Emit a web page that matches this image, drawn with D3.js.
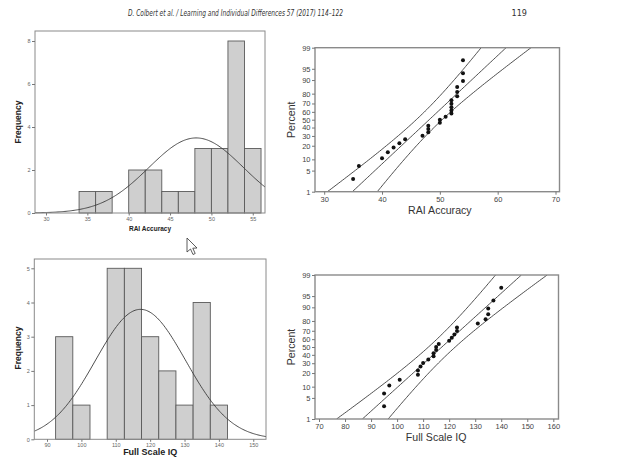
<!DOCTYPE html>
<html lang="en">
<head>
  <meta charset="UTF-8">
  <title>RAI Accuracy / Full Scale IQ</title>
  <style>
body {
    margin: 0;
    background: #fff;
    font-family: "Liberation Sans", Arial, Helvetica, sans-serif;
}

.frame {
    fill: none;
    stroke: #8a8a8a;
}

.bar {
    fill: #cfcfcf;
    stroke: #5a5a5a;
    stroke-width: 0.9px;
}

.curve {
    fill: none;
    stroke: #3a3a3a;
    stroke-width: 0.9px;
}

.tick-small text {
    fill: #666;
    font-size: 5.5px;
}

.tick-small line, .tick-qq line {
    stroke: #777;
}

.tick-qq text {
    fill: #444;
    font-size: 7.5px;
}

.hist-label {
    font-weight: bold;
    fill: #222;
}

.qq-label {
    fill: #333;
    font-size: 10.6px;
}
  </style>
</head>
<body>

<div id="wrapper"></div>

<script src="https://cdnjs.cloudflare.com/ajax/libs/d3/7.8.5/d3.min.js"></script>
<script>

// DATA (histograms agree)
const raiAccuracy = [35, 36, 40, 41, 42, 43, 44, 47, 48, 48, 48, 50, 50, 51,
                     52, 52, 52, 52, 52, 53, 53, 53, 54, 54, 54]
const fullScaleIQ = [95, 95, 97, 101, 108, 108, 109, 110, 112, 114, 114, 115, 115,
                     116, 120, 121, 122, 123, 123, 131, 134, 135, 135, 137, 140]

const raiBinEdges = [34, 36, 38, 40, 42, 44, 46, 48, 50, 52, 54, 56]
const iqBinEdges = [92.5, 97.5, 102.5, 107.5, 112.5, 117.5, 122.5, 127.5, 132.5, 137.5, 142.5]

const raiHistXTicks = [30, 35, 40, 45, 50, 55]
const raiHistYTicks = [0, 2, 4, 6, 8]
const iqHistXTicks = [90, 100, 110, 120, 130, 140, 150]
const iqHistYTicks = [0, 1, 2, 3, 4, 5]

const percentTicks = [1, 5, 10, 20, 30, 40, 50, 60, 70, 80, 90, 95, 99]
const raiQQXTicks = [30, 40, 50, 60, 70]
const iqQQXTicks = [70, 80, 90, 100, 110, 120, 130, 140, 150, 160]

const headerText = "D. Colbert et al. / Learning and Individual Differences 57 (2017) 114\u2013122"
const pageNumber = "119"

// inverse normal cdf (Acklam)
function qnorm(p) {
  const a = [-3.969683028665376e+01, 2.209460984245205e+02, -2.759285104469687e+02,
             1.383577518672690e+02, -3.066479806614716e+01, 2.506628277459239e+00]
  const b = [-5.447609879822406e+01, 1.615858368580409e+02, -1.556989798598866e+02,
             6.680131188771972e+01, -1.328068155288572e+01]
  const c = [-7.784894002430293e-03, -3.223964580411365e-01, -2.400758277161838e+00,
             -2.549732539343734e+00, 4.374664141464968e+00, 2.938163982698783e+00]
  const d = [7.784695709041462e-03, 3.224671290700398e-01, 2.445134137142996e+00,
             3.754408661907416e+00]
  const pl = 0.02425
  let q, r
  if (p < pl) {
    q = Math.sqrt(-2 * Math.log(p))
    return (((((c[0]*q+c[1])*q+c[2])*q+c[3])*q+c[4])*q+c[5]) / ((((d[0]*q+d[1])*q+d[2])*q+d[3])*q+1)
  }
  if (p > 1 - pl) {
    q = Math.sqrt(-2 * Math.log(1 - p))
    return -(((((c[0]*q+c[1])*q+c[2])*q+c[3])*q+c[4])*q+c[5]) / ((((d[0]*q+d[1])*q+d[2])*q+d[3])*q+1)
  }
  q = p - 0.5
  r = q * q
  return (((((a[0]*r+a[1])*r+a[2])*r+a[3])*r+a[4])*r+a[5])*q / (((((b[0]*r+b[1])*r+b[2])*r+b[3])*r+b[4])*r+1)
}

const width = 638
const height = 460

const svg = d3.select("#wrapper")
  .append("svg")
  .attr("width", width)
  .attr("height", height)

svg.append("rect").attr("width", width).attr("height", height).attr("fill", "#fff")

// HEADER
svg.append("text")
  .attr("x", 128).attr("y", 16)
  .attr("textLength", 215).attr("lengthAdjust", "spacingAndGlyphs")
  .style("font-family", "'Liberation Sans Narrow', 'DejaVu Sans Condensed', sans-serif")
  .style("font-style", "italic").style("font-size", "9px").attr("fill", "#333")
  .text(headerText)

svg.append("text")
  .attr("x", 527).attr("y", 16).attr("text-anchor", "end")
  .style("font-family", "'Liberation Sans Narrow', 'DejaVu Sans Condensed', sans-serif")
  .style("font-size", "9px").attr("fill", "#333")
  .text(pageNumber)

// HISTOGRAM WITH NORMAL CURVE
function drawHistogram(opts) {
  const { values, edges, xTicks, yTicks, frame, xDomain, yAt, label, labelSize, labelY, freqY } = opts
  const g = svg.append("g")

  const x = d3.scaleLinear().domain(xDomain).range([frame.left, frame.right])
  const y = d3.scaleLinear().domain([0, yAt.v]).range([frame.bottom, yAt.px])

  const bins = d3.bin()
    .domain([edges[0], edges[edges.length - 1]])
    .thresholds(edges.slice(1, -1))(values)

  g.selectAll(".bar")
    .data(bins.filter(b => b.length > 0))
    .enter().append("rect")
      .attr("class", "bar")
      .attr("x", d => x(d.x0))
      .attr("width", d => x(d.x1) - x(d.x0))
      .attr("y", d => y(d.length))
      .attr("height", d => y(0) - y(d.length))

  // fitted normal curve, scaled to counts
  const n = values.length
  const mu = d3.mean(values)
  const sd = d3.deviation(values)
  const binW = edges[1] - edges[0]
  const dens = v => n * binW * Math.exp(-0.5 * ((v - mu) / sd) ** 2) / (sd * Math.sqrt(2 * Math.PI))
  const xs = d3.range(0, 201).map(i => xDomain[0] + (xDomain[1] - xDomain[0]) * i / 200)
  g.append("path")
    .attr("class", "curve")
    .attr("d", d3.line().x(v => x(v)).y(v => y(dens(v)))(xs))

  g.append("rect")
    .attr("class", "frame")
    .attr("x", frame.left).attr("y", frame.top)
    .attr("width", frame.right - frame.left)
    .attr("height", frame.bottom - frame.top)

  g.append("g")
    .attr("class", "tick-small")
    .attr("transform", `translate(0,${frame.bottom})`)
    .call(d3.axisBottom(x).tickValues(xTicks).tickFormat(d3.format("d"))
      .tickSize(2.5).tickPadding(1.5).tickSizeOuter(0))
    .call(a => a.select(".domain").remove())

  g.append("g")
    .attr("class", "tick-small")
    .attr("transform", `translate(${frame.left},0)`)
    .call(d3.axisLeft(y).tickValues(yTicks).tickFormat(d3.format("d"))
      .tickSize(3).tickPadding(1.5).tickSizeOuter(0))
    .call(a => a.select(".domain").remove())

  g.selectAll(".tick-small text").style("font-family", "'Liberation Sans', Arial, sans-serif")

  g.append("text")
    .attr("class", "hist-label")
    .attr("x", (frame.left + frame.right) / 2).attr("y", labelY)
    .attr("text-anchor", "middle").attr("dominant-baseline", "middle")
    .style("font-size", labelSize + "px")
    .text(label)

  g.append("text")
    .attr("class", "hist-label")
    .attr("transform", `translate(19,${freqY}) rotate(-90)`)
    .attr("text-anchor", "middle").attr("dominant-baseline", "middle")
    .style("font-size", "8.5px")
    .text("Frequency")
}

// NORMAL PROBABILITY PLOT WITH 95% BANDS
function drawProbPlot(opts) {
  const { values, xTicks, frame, xAt, label, labelY } = opts
  const g = svg.append("g")

  const zLo = qnorm(0.01), zHi = qnorm(0.99)
  const x = d3.scaleLinear().domain([xAt.v0, xAt.v1]).range([xAt.p0, xAt.p1])
  const y = d3.scaleLinear().domain([zLo, zHi]).range([frame.bottom, frame.top])

  const sorted = values.slice().sort(d3.ascending)
  const n = sorted.length
  const mu = d3.mean(sorted)
  const sd = d3.deviation(sorted)

  const zs = d3.range(0, 101).map(i => zLo + (zHi - zLo) * i / 100)
  const half = z => 1.96 * sd * Math.sqrt(1 / n + z * z / (2 * n))
  const lines = [
    zs.map(z => [mu + z * sd - half(z), z]),
    zs.map(z => [mu + z * sd, z]),
    zs.map(z => [mu + z * sd + half(z), z]),
  ]

  const clipId = "clip" + Math.round(frame.top)
  g.append("clipPath").attr("id", clipId)
    .append("rect")
    .attr("x", frame.left).attr("y", frame.top)
    .attr("width", frame.right - frame.left).attr("height", frame.bottom - frame.top)

  g.append("g").attr("clip-path", `url(#${clipId})`)
    .selectAll("path")
    .data(lines)
    .enter().append("path")
      .attr("class", "curve")
      .attr("d", d3.line().x(d => x(d[0])).y(d => y(d[1])))

  g.selectAll(".dot")
    .data(sorted)
    .enter().append("circle")
      .attr("class", "dot")
      .attr("cx", d => x(d))
      .attr("cy", (d, i) => y(qnorm((i + 1 - 0.3) / (n + 0.4))))
      .attr("r", 2)
      .attr("fill", "#111")

  g.append("rect")
    .attr("class", "frame")
    .attr("x", frame.left).attr("y", frame.top)
    .attr("width", frame.right - frame.left)
    .attr("height", frame.bottom - frame.top)
    .style("stroke-width", "1.4px")

  g.append("g")
    .attr("class", "tick-qq")
    .attr("transform", `translate(0,${frame.bottom})`)
    .call(d3.axisBottom(x).tickValues(xTicks).tickSize(3).tickPadding(2).tickSizeOuter(0))
    .call(a => a.select(".domain").remove())

  g.append("g")
    .attr("class", "tick-qq")
    .attr("transform", `translate(${frame.left},0)`)
    .call(d3.axisLeft(y)
      .tickValues(percentTicks.map(p => qnorm(p / 100)))
      .tickFormat((d, i) => percentTicks[i])
      .tickSize(3).tickPadding(1.5).tickSizeOuter(0))
    .call(a => a.select(".domain").remove())

  g.selectAll(".tick-qq text").style("font-family", "'Liberation Sans', Arial, sans-serif")

  g.append("text")
    .attr("class", "qq-label")
    .attr("x", (xAt.p0 + xAt.p1) / 2).attr("y", labelY)
    .attr("text-anchor", "middle").attr("dominant-baseline", "middle")
    .text(label)

  g.append("text")
    .attr("class", "qq-label")
    .attr("transform", `translate(292,${(frame.top + frame.bottom) / 2}) rotate(-90)`)
    .attr("text-anchor", "middle").attr("dominant-baseline", "middle")
    .text("Percent")
}

drawHistogram({
  values: raiAccuracy, edges: raiBinEdges,
  xTicks: raiHistXTicks, yTicks: raiHistYTicks,
  frame: { left: 35, right: 265, top: 31, bottom: 213 },
  xDomain: [28.67, 56.48],
  yAt: { v: 8, px: 41 },
  label: "RAI Accuracy", labelSize: 6.5, labelY: 229, freqY: 122,
})

drawHistogram({
  values: fullScaleIQ, edges: iqBinEdges,
  xTicks: iqHistXTicks, yTicks: iqHistYTicks,
  frame: { left: 34.3, right: 266, top: 259, bottom: 439.3 },
  xDomain: [86.3, 153.7],
  yAt: { v: 5, px: 268.3 },
  label: "Full Scale IQ", labelSize: 9, labelY: 453, freqY: 348,
})

drawProbPlot({
  values: raiAccuracy, xTicks: raiQQXTicks,
  frame: { left: 315, right: 559.5, top: 47.7, bottom: 191.7 },
  xAt: { v0: 30, v1: 70, p0: 324.2, p1: 555.5 },
  label: "RAI Accuracy", labelY: 211,
})

drawProbPlot({
  values: fullScaleIQ, xTicks: iqQQXTicks,
  frame: { left: 315, right: 558.5, top: 275, bottom: 419 },
  xAt: { v0: 70, v1: 160, p0: 319, p1: 553.3 },
  label: "Full Scale IQ", labelY: 438,
})

// mouse pointer seen in the scan
svg.append("path")
  .attr("d", "M187,238 L187,252 L190.5,249 L193,254.5 L195.2,253.5 L192.8,248.2 L197,248 Z")
  .attr("fill", "#fff").attr("stroke", "#333").attr("stroke-width", 0.8)

</script>

</body>
</html>
